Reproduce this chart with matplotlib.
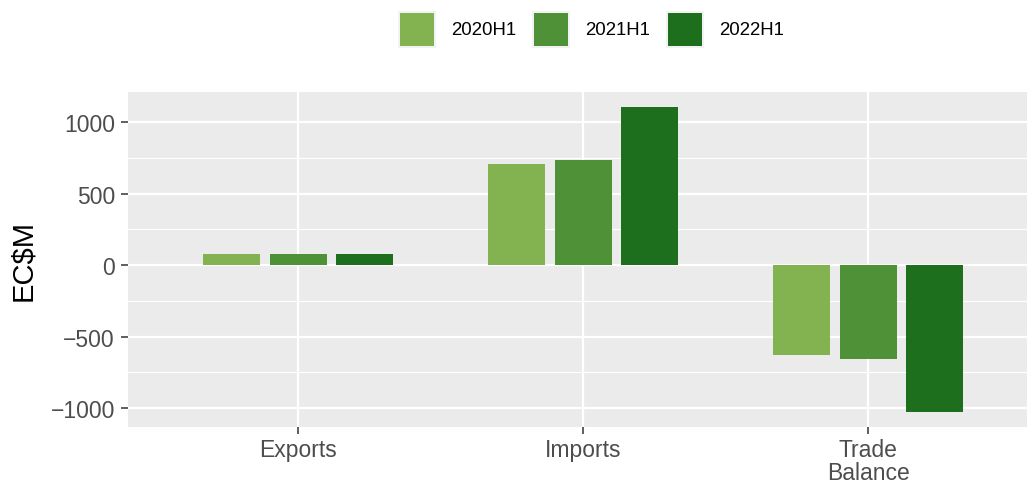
import matplotlib
matplotlib.use("Agg")
import matplotlib.pyplot as plt
from matplotlib.patches import Rectangle
import numpy as np

categories = ["Exports", "Imports", "Trade\nBalance"]
series = ["2020H1", "2021H1", "2022H1"]
exports = [80, 80, 80]
imports = [705, 733, 1105]
balance = [-625, -653, -1025]
colors = ["#83B351", "#4F9137", "#1D6F1D"]

values = np.array([exports, imports, balance])  # rows: categories, cols: series

plt.rcParams['font.family'] = ['Liberation Sans', 'DejaVu Sans']

W, H = 1027, 485
fig = plt.figure(figsize=(W / 100, H / 100), dpi=100)
ax = fig.add_axes([127.5 / W, 1 - 428 / H, 1 - 127.5 / W, (428 - 93) / H])
ax.set_facecolor("#EBEBEB")

x = np.arange(1, len(categories) + 1)
slot = 0.7 / 3
bw = 0.6 / 3
for i, s in enumerate(series):
    ax.bar(x + (i - 1) * slot, values[:, i], width=bw, color=colors[i], zorder=3, label=s)

vmin, vmax = min(values.min(), 0), max(values.max(), 0)
pad = (vmax - vmin) * 0.05
ax.set_ylim(vmin - pad, vmax + pad)
ax.set_xlim(0.4, 3.557)

ax.set_yticks([-1000, -500, 0, 500, 1000])
ax.set_yticklabels(["\u22121000", "\u2212500", "0", "500", "1000"])
ax.set_yticks([-750, -250, 250, 750], minor=True)
ax.set_xticks(x)
ax.set_xticklabels(categories, linespacing=1.0)

ax.grid(True, which="major", color="white", linewidth=1.6, zorder=1)
ax.grid(True, which="minor", axis="y", color="white", linewidth=0.8, zorder=1)
ax.set_axisbelow(True)
for sp in ax.spines.values():
    sp.set_visible(False)

ax.tick_params(axis="both", which="major", length=5, width=1.1, color="#333333",
               labelsize=16.5, labelcolor="#4D4D4D", pad=3)
ax.tick_params(axis="y", which="minor", length=0)
ax.tick_params(axis="y", pad=4)

fig.text(23 / W, 1 - 260.5 / H, "EC$M", rotation=90, ha="center", va="center",
         fontsize=21, color="black")

# legend drawn manually at the top
for i, (s, c) in enumerate(zip(series, colors)):
    kx = 398 + i * 134
    fig.add_artist(Rectangle((kx / W, 1 - 49 / H), 38 / W, 37 / H,
                             transform=fig.transFigure, facecolor="#F2F2F2",
                             edgecolor="none"))
    fig.add_artist(Rectangle(((kx + 2) / W, 1 - 47 / H), 34 / W, 33 / H,
                             transform=fig.transFigure, facecolor=c,
                             edgecolor="none"))
    fig.text((kx + 53) / W, 1 - 30.5 / H, s, ha="left", va="center",
             fontsize=13.4, color="black")

fig.savefig("out.png", dpi=100)
